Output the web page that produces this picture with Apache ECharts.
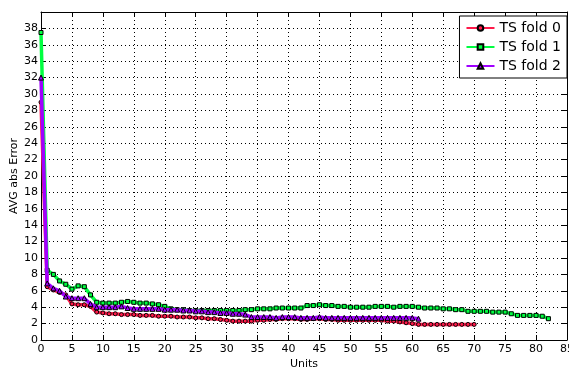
<!DOCTYPE html>
<html>
<head>
<meta charset="UTF-8">
<title>AVG abs Error</title>
<script src="https://cdn.jsdelivr.net/npm/echarts@6/dist/echarts.min.js"></script>
<style>
  html, body { margin: 0; padding: 0; background: #fff; }
  #main { width: 569px; height: 372px; }
</style>
</head>
<body>
<div id="main"></div>
<script type="text/javascript">
// values, index = units
var fold0 = [29, 6.5, 6.1, 5.8, 5.5, 4.4, 4.3, 4.3, 4.1, 3.4, 3.3, 3.2, 3.2, 3.1, 3.1, 3.1, 3.0, 3.0, 3.0, 2.9,
  2.9, 2.9, 2.8, 2.8, 2.8, 2.7, 2.7, 2.6, 2.6, 2.5, 2.4, 2.3, 2.3, 2.3, 2.3, 2.4, 2.4, 2.5, 2.5, 2.6,
  2.6, 2.6, 2.5, 2.5, 2.6, 2.6, 2.5, 2.5, 2.4, 2.4, 2.4, 2.4, 2.4, 2.4, 2.4, 2.4, 2.3, 2.3, 2.2, 2.1,
  2.0, 1.9, 1.9, 1.9, 1.9, 1.9, 1.9, 1.9, 1.9, 1.9, 1.9];
var fold1 = [37.5, 8.5, 8.0, 7.2, 6.8, 6.2, 6.6, 6.5, 5.5, 4.6, 4.5, 4.5, 4.5, 4.6, 4.7, 4.6, 4.5, 4.5, 4.4, 4.3,
  4.1, 3.8, 3.7, 3.7, 3.6, 3.6, 3.6, 3.6, 3.6, 3.6, 3.6, 3.6, 3.6, 3.7, 3.7, 3.8, 3.8, 3.8, 3.9, 3.9,
  3.9, 3.9, 3.9, 4.2, 4.2, 4.3, 4.2, 4.2, 4.1, 4.1, 4.0, 4.0, 4.0, 4.0, 4.1, 4.1, 4.1, 4.0, 4.1, 4.1,
  4.1, 4.0, 3.9, 3.9, 3.9, 3.8, 3.8, 3.7, 3.7, 3.5, 3.5, 3.5, 3.5, 3.4, 3.4, 3.4, 3.2, 3.0, 3.0, 3.0,
  3.0, 2.9, 2.6];
var fold2 = [32, 6.9, 6.3, 6.0, 5.3, 5.1, 5.1, 5.1, 4.4, 4.0, 4.0, 4.0, 4.0, 4.1, 3.9, 3.8, 3.8, 3.8, 3.8, 3.8,
  3.7, 3.7, 3.7, 3.6, 3.6, 3.5, 3.5, 3.4, 3.4, 3.3, 3.3, 3.2, 3.2, 3.1, 2.8, 2.8, 2.8, 2.8, 2.7, 2.8,
  2.8, 2.8, 2.7, 2.7, 2.7, 2.8, 2.7, 2.7, 2.7, 2.7, 2.7, 2.7, 2.7, 2.7, 2.7, 2.7, 2.7, 2.7, 2.7, 2.7,
  2.7, 2.6];
var seriesNames = ['TS fold 0', 'TS fold 1', 'TS fold 2'];
var seriesColors = ['#ff1a4a', '#00ff40', '#a000ff'];
var seriesSymbols = ['circle', 'rect', 'triangle'];

function pairs(arr) {
    var out = [];
    for (var i = 0; i < arr.length; i++) out.push([i, arr[i]]);
    return out;
}

var myChart = echarts.init(document.getElementById('main'), null, { renderer: 'canvas' });
var font = 'DejaVu Sans';

var gridLine = { show: true, lineStyle: { color: '#000', type: [1, 3], width: 1 } };
var boxLine = { show: true, onZero: false, lineStyle: { color: '#000', width: 1 } };

var allData = [fold0, fold1, fold2];
var series = [];
for (var k = 0; k < 3; k++) {
    series.push({
        name: seriesNames[k],
        type: 'line',
        data: pairs(allData[k]),
        symbol: seriesSymbols[k],
        symbolSize: k === 2 ? 5 : 4,
        showAllSymbol: true,
        lineStyle: { color: seriesColors[k], width: 3.5 },
        itemStyle: { color: seriesColors[k], borderColor: '#000', borderWidth: 1 },
        emphasis: { disabled: true },
        animation: false,
        z: 2 + k
    });
}

option = {
    animation: false,
    textStyle: { fontFamily: font },
    grid: { left: 41, right: 2, top: 12, bottom: 32, outerBoundsMode: 'none', containLabel: false },
    legend: {
        right: 2,
        top: 16,
        orient: 'vertical',
        backgroundColor: '#fff',
        borderColor: '#000',
        borderWidth: 1,
        borderRadius: 0,
        padding: [5, 6, 5, 6],
        itemWidth: 28,
        itemHeight: 7,
        itemGap: 5,
        textStyle: { fontFamily: font, fontSize: 14, color: '#000' },
        data: seriesNames
    },
    xAxis: [{
        type: 'value', min: 0, max: 85, interval: 5,
        name: 'Units', nameLocation: 'middle', nameGap: 19, nameMoveOverlap: false,
        nameTextStyle: { fontFamily: font, fontSize: 11, color: '#000' },
        axisLine: boxLine,
        axisTick: { show: true, inside: true, length: 5, lineStyle: { color: '#000' } },
        axisLabel: { color: '#000', fontFamily: font, fontSize: 11, margin: 4 },
        splitLine: gridLine
    }, {
        type: 'value', min: 0, max: 85, interval: 5, position: 'top',
        axisLine: boxLine,
        axisTick: { show: true, inside: true, length: 5, lineStyle: { color: '#000' } },
        axisLabel: { show: false },
        splitLine: { show: false }
    }],
    yAxis: [{
        type: 'value', min: 0, max: 40, interval: 2,
        name: 'AVG abs Error', nameLocation: 'middle', nameGap: 21, nameMoveOverlap: false,
        nameTextStyle: { fontFamily: font, fontSize: 11, color: '#000' },
        axisLine: boxLine,
        axisTick: { show: true, inside: true, length: 5, lineStyle: { color: '#000' } },
        axisLabel: { color: '#000', fontFamily: font, fontSize: 11, margin: 3, showMaxLabel: false },
        splitLine: gridLine
    }, {
        type: 'value', min: 0, max: 40, interval: 2, position: 'right',
        axisLine: boxLine,
        axisTick: { show: true, inside: true, length: 5, lineStyle: { color: '#000' } },
        axisLabel: { show: false },
        splitLine: { show: false }
    }],
    series: series
};

myChart.setOption(option);
</script>
</body>
</html>
